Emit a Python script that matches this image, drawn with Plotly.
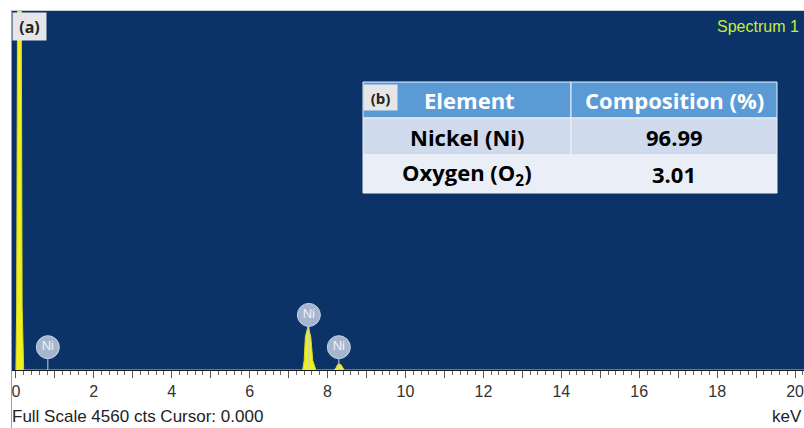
import plotly.graph_objects as go

# ---------------- data ----------------
# EDS spectrum (keV, counts)
spec_keV = [0.00, 0.02, 0.05, 0.09, 0.13, 0.16, 0.20,
            7.36, 7.40, 7.43, 7.50, 7.57, 7.62, 7.70,
            8.17, 8.22, 8.26, 8.30, 8.34, 8.38, 8.43, 20.23]
spec_cts = [0, 800, 6000, 9000, 6000, 800, 0,
            0, 120, 420, 560, 420, 120, 0,
            0, 30, 70, 76, 70, 30, 0, 0]

# element markers
marker_keV = [0.82, 7.52, 8.29]
marker_cts = [290, 700, 290]
marker_txt = ["Ni", "Ni", "Ni"]

x_ticks = list(range(0, 21))
x_ticktext = [str(v) if v % 2 == 0 else "" for v in x_ticks]

full_scale = 4560

# table (b)
tbl_header = ["Element", "Composition (%)"]
tbl_element = ["Nickel (Ni)", "Oxygen (O<sub>2</sub>)"]
tbl_comp = ["96.99", "3.01"]

# ---------------- figure ----------------
W, H = 804, 428
ML, MR, MT, MB = 12, 0, 11, 58
PW, PH = W - ML - MR, H - MT - MB


def px(x):
    return (x - ML) / PW


def py(y):
    return (H - MB - y) / PH


fig = go.Figure()

fig.add_trace(go.Scatter(
    x=spec_keV, y=spec_cts, mode="lines", fill="tozeroy",
    line=dict(color="#d8d820", width=1), fillcolor="#f0f01e",
    hoverinfo="skip", showlegend=False))

fig.add_trace(go.Scatter(
    x=marker_keV, y=marker_cts, mode="markers+text", text=marker_txt,
    textposition="middle center",
    textfont=dict(family="Liberation Sans", size=13, color="#eef2f8"),
    marker=dict(size=23, color="#a6b6cf", line=dict(color="#c4d0e2", width=1)),
    error_y=dict(type="data", symmetric=False, array=[0, 0, 0],
                 arrayminus=marker_cts, color="#c6cfdd", thickness=1, width=0),
    hoverinfo="skip", showlegend=False))

# ---- table (b) built from shapes + annotations ----
col_x = [363, 571, 777]
row_y = [82, 118, 155, 193]
row_fill = ["#5b9bd5", "#cfdaec", "#e9eef7"]
rows = [tbl_header] + [[e, c] for e, c in zip(tbl_element, tbl_comp)]
row_color = ["white", "black", "black"]

shapes = [
    dict(type="line", xref="paper", yref="paper", x0=px(11.5), x1=px(11.5),
         y0=py(428), y1=py(10), line=dict(color="#9aa0a8", width=1)),
    dict(type="line", xref="paper", yref="paper", x0=px(11.5), x1=1,
         y0=py(10.5), y1=py(10.5), line=dict(color="#c8ccd2", width=1)),
]
annotations = []
for r in range(3):
    for c in range(2):
        shapes.append(dict(type="rect", xref="paper", yref="paper",
                           x0=px(col_x[c]), x1=px(col_x[c + 1]),
                           y0=py(row_y[r + 1]), y1=py(row_y[r]),
                           fillcolor=row_fill[r],
                           line=dict(color="#eef2f8", width=1)))
        annotations.append(dict(
            xref="paper", yref="paper",
            x=px((col_x[c] + col_x[c + 1]) / 2 + (2 if r == 0 and c == 0 else 0)),
            y=py((row_y[r] + row_y[r + 1]) / 2),
            xanchor="center", yanchor="middle", showarrow=False,
            text="<b>" + rows[r][c] + "</b>",
            font=dict(family="Open Sans", size=22, color=row_color[r])))

annotations += [
    dict(xref="paper", yref="paper", x=px(12), y=py(12), xanchor="left",
         yanchor="top", text="<b>(a)</b>", showarrow=False,
         width=33, height=27, bgcolor="#e6e6e8", borderpad=0,
         font=dict(family="Open Sans", size=16, color="#222")),
    dict(xref="paper", yref="paper", x=px(363), y=py(84), xanchor="left",
         yanchor="top", text="<b>(b)</b>", showarrow=False,
         width=33, height=25, bgcolor="#e6e6e8", borderpad=0,
         font=dict(family="Open Sans", size=15, color="#222")),
    dict(xref="paper", yref="paper", x=px(801), y=py(26), xanchor="right",
         yanchor="middle", text="Spectrum 1", showarrow=False,
         font=dict(family="Liberation Sans", size=16, color="#c9ec3a")),
    dict(xref="paper", yref="paper", x=px(10), y=py(416), xanchor="left",
         yanchor="middle", text="Full Scale %d cts Cursor: 0.000" % full_scale,
         showarrow=False,
         font=dict(family="Liberation Sans", size=17, color="#222")),
    dict(xref="paper", yref="paper", x=1.0, y=py(416), xanchor="right",
         yanchor="middle", text="keV", showarrow=False,
         font=dict(family="Liberation Sans", size=17, color="#222")),
]

fig.update_layout(
    width=W, height=H,
    margin=dict(l=ML, r=MR, t=MT, b=MB),
    paper_bgcolor="white", plot_bgcolor="#0b3367",
    xaxis=dict(range=[-0.1, 20.23], tickmode="array", tickvals=x_ticks,
               ticktext=x_ticktext, ticks="outside", ticklen=7, tickwidth=1,
               tickcolor="#555", showgrid=False, zeroline=False,
               showline=True, linecolor="#1a1a1a", linewidth=1,
               ticklabeloverflow="allow",
               tickfont=dict(family="Liberation Sans", size=16, color="#333"),
               minor=dict(dtick=0.2, ticks="outside", ticklen=4,
                          tickcolor="#666", showgrid=False)),
    yaxis=dict(range=[0, full_scale], showticklabels=False, showgrid=False,
               zeroline=False, ticks=""),
    shapes=shapes,
    annotations=annotations,
)

fig.write_html("out.html", config={"displayModeBar": False},
               post_script="document.body.style.margin='0px';"
                           "document.body.style.overflow='hidden';")
